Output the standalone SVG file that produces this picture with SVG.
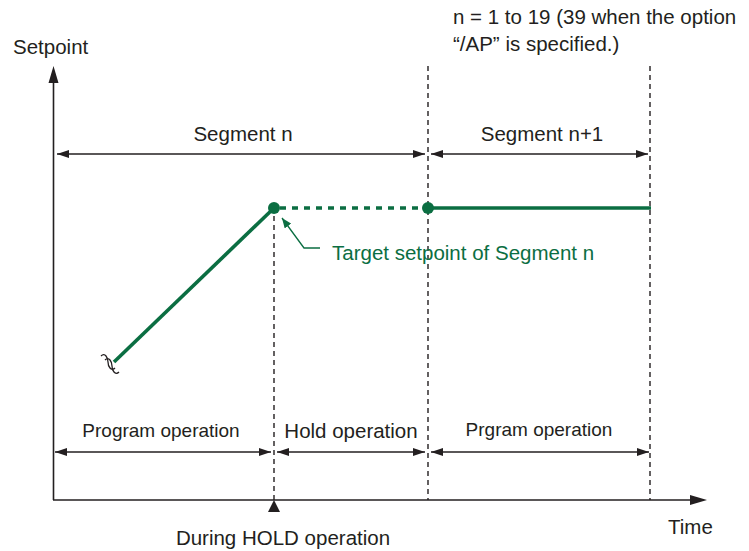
<svg xmlns="http://www.w3.org/2000/svg" width="749" height="551" viewBox="0 0 749 551">
<style>
text{font-family:"Liberation Sans",Arial,sans-serif;font-size:20.5px;fill:#231f20}
.sm{font-size:19px}
.g{fill:#0b6e42}
.ax{stroke:#231f20;stroke-width:1.6;fill:none}
.dash{stroke:#231f20;stroke-width:1.4;stroke-dasharray:5 4;fill:none}
.dim{stroke:#231f20;stroke-width:1.4;fill:none;marker-start:url(#ah);marker-end:url(#ah)}
.gl{stroke:#0b6e42;stroke-width:3.6;fill:none}
</style>
<defs>
<marker id="ah" viewBox="0 0 12 8" refX="12" refY="4" markerWidth="12" markerHeight="8" markerUnits="userSpaceOnUse" orient="auto-start-reverse">
<path d="M0,0 L12,4 L0,8 Z" fill="#231f20"/>
</marker>
<marker id="ga" viewBox="0 0 10 8" refX="10" refY="4" markerWidth="10" markerHeight="8" markerUnits="userSpaceOnUse" orient="auto">
<path d="M0,0 L10,4 L0,8 Z" fill="#0b6e42"/>
</marker>
</defs>
<g id="connectors">
<path class="ax" d="M53.5,500 V80"/>
<path d="M53.5,66 L48.5,83 L58.5,83 Z" fill="#231f20"/>
<path class="ax" d="M53,500 H692"/>
<path d="M707,500 L690,495 L690,505 Z" fill="#231f20"/>
<path class="dash" d="M274,216 V500"/>
<path class="dash" d="M428,66 V500"/>
<path class="dash" d="M650,66 V500"/>
<path class="dim" d="M57,154 H425"/>
<path class="dim" d="M431,154 H648"/>
<path class="dim" d="M55,452 H271"/>
<path class="dim" d="M277,452 H425"/>
<path class="dim" d="M431,452 H649"/>
<path d="M274,500 L268,512 L280,512 Z" fill="#231f20"/>
</g>
<g id="curve">
<path class="gl" d="M114,362 L274,208"/>
<path class="gl" d="M280,208 H424" stroke-dasharray="6 6"/>
<path class="gl" d="M428,208 H651"/>
<circle cx="274" cy="208" r="6" fill="#0b6e42"/>
<circle cx="428" cy="208" r="6" fill="#0b6e42"/>
<path d="M101,356 C105,352 108,358 108,362 C108,366 111,372 115,368 M105,360 C109,356 112,362 112,366 C112,370 115,376 119,372" stroke="#231f20" stroke-width="1.3" fill="none"/>
</g>
<g id="leader">
<path d="M320,248 H304 L282,218" stroke="#0b6e42" stroke-width="1.3" fill="none" marker-end="url(#ga)"/>
<text class="g" x="332" y="260">Target setpoint of Segment n</text>
</g>
<g id="labels">
<text x="13" y="54">Setpoint</text>
<text x="453" y="24">n = 1 to 19 (39 when the option</text>
<text x="453" y="51">“/AP” is specified.)</text>
<text x="243" y="141" text-anchor="middle">Segment n</text>
<text x="542" y="141" text-anchor="middle">Segment n+1</text>
<text class="sm" x="161" y="437" text-anchor="middle">Program operation</text>
<text x="351" y="438" text-anchor="middle">Hold operation</text>
<text class="sm" x="539" y="436" text-anchor="middle">Prgram operation</text>
<text x="283" y="545" text-anchor="middle">During HOLD operation</text>
<text x="668" y="534">Time</text>
</g>
</svg>
